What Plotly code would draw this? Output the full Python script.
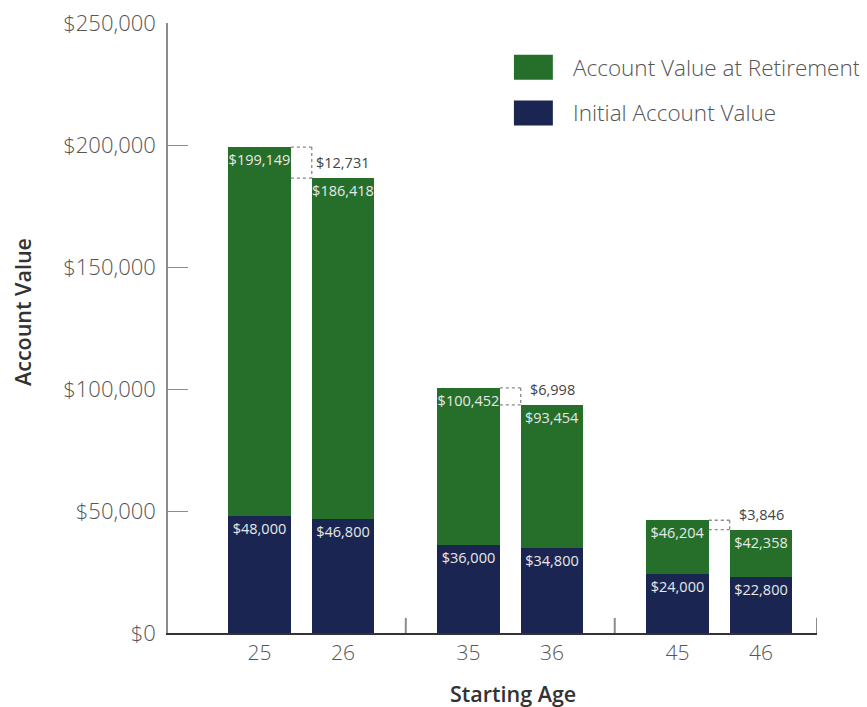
import plotly.graph_objects as go

# ---- data ----
ages = [25, 26, 35, 36, 45, 46]
initial_value = [48000, 46800, 36000, 34800, 24000, 22800]
retirement_value = [199149, 186418, 100452, 93454, 46204, 42358]
y_tick_values = [0, 50000, 100000, 150000, 200000, 250000]
y_tick_labels = ["$0", "$50,000", "$100,000", "$150,000", "$200,000", "$250,000"]
series_names = ["Account Value at Retirement", "Initial Account Value"]

GREEN = "#266F2A"
NAVY = "#1A2651"
AXIS_GRAY = "#8c8c8c"
TEXT_GRAY = "#555555"
LIGHT = "Open Sans, Noto Sans, sans-serif"
VAL_SIZE = 14.5

# layout of positions: pairs grouped with extra gap
GROUP_STEP = 2.5
BAR_W = 0.75
pos = [(i // 2) * GROUP_STEP + (i % 2) for i in range(len(ages))]
growth = [r - s for r, s in zip(retirement_value, initial_value)]

def money(v):
    return "${:,}".format(v)

fig = go.Figure()
fig.add_trace(go.Bar(
    x=pos, y=initial_value, width=BAR_W, marker=dict(color=NAVY, line=dict(width=0)),
    name=series_names[1], text=[money(v) for v in initial_value],
    textposition="inside", insidetextanchor="end", textangle=0, constraintext="none",
    textfont=dict(family=LIGHT, size=VAL_SIZE, color="#e8e8e8"), showlegend=False,
    hoverinfo="skip",
))
fig.add_trace(go.Bar(
    x=pos, y=growth, width=BAR_W, marker=dict(color=GREEN, line=dict(width=0)),
    name=series_names[0], text=[money(v) for v in retirement_value],
    textposition="inside", insidetextanchor="end", textangle=0, constraintext="none",
    textfont=dict(family=LIGHT, size=VAL_SIZE, color="#e8e8e8"), showlegend=False,
    hoverinfo="skip",
))

shapes = []
annotations = []
# difference brackets between pairs
for k in range(0, len(ages), 2):
    a, b = k, k + 1
    x_left = pos[a] + BAR_W / 2
    x_right = pos[b] - BAR_W / 2
    ya, yb = retirement_value[a], retirement_value[b]
    dot = dict(color="#888888", width=1.3, dash="dot")
    shapes.append(dict(type="line", xref="x", yref="y", x0=x_left, x1=x_right, y0=ya, y1=ya, line=dot))
    shapes.append(dict(type="line", xref="x", yref="y", x0=x_left, x1=x_right, y0=yb, y1=yb, line=dot))
    shapes.append(dict(type="line", xref="x", yref="y", x0=x_right, x1=x_right, y0=ya, y1=yb, line=dot))
    annotations.append(dict(
        x=pos[b], y=yb, xref="x", yref="y", text=money(ya - yb), showarrow=False,
        xanchor="center", yanchor="bottom", yshift=4,
        font=dict(family=LIGHT, size=VAL_SIZE, color="#444444"),
    ))

# group boundary ticks on the x axis (pointing up)
x_min, x_max = -1.095, 6.67
for bnd in [(pos[1] + pos[2]) / 2, (pos[3] + pos[4]) / 2, x_max]:
    shapes.append(dict(type="line", xref="x", yref="y", x0=bnd, x1=bnd, y0=0, y1=6200,
                       line=dict(color=AXIS_GRAY, width=2)))

# custom legend
legend_items = [(series_names[0], GREEN, 0.948, 0.907), (series_names[1], NAVY, 0.873, 0.832)]
for name, col, y1, y0 in legend_items:
    shapes.append(dict(type="rect", xref="paper", yref="paper", x0=0.533, x1=0.593, y0=y0, y1=y1,
                       fillcolor=col, line=dict(width=0)))
    annotations.append(dict(x=0.621, y=(y0 + y1) / 2, xref="paper", yref="paper", text=name,
                            showarrow=False, xanchor="left", yanchor="middle",
                            font=dict(family=LIGHT, size=22.5, color=TEXT_GRAY, weight=300)))

# axis titles
annotations.append(dict(x=0, y=0.5, xref="paper", yref="paper", text="Account Value", textangle=-90,
                        showarrow=False, xanchor="center", yanchor="middle", xshift=-146, yshift=16,
                        font=dict(family=LIGHT, size=21.5, color="#333333", weight=600)))
annotations.append(dict(x=0.531, y=0, xref="paper", yref="paper", text="Starting Age",
                        showarrow=False, xanchor="center", yanchor="middle", yshift=-60,
                        font=dict(family=LIGHT, size=21.5, color="#333333", weight=600)))

fig.update_layout(
    width=859, height=699,
    margin=dict(l=160, r=50, t=15, b=74, autoexpand=False),
    paper_bgcolor="white", plot_bgcolor="white",
    barmode="stack", bargap=0,
    shapes=shapes, annotations=annotations,
    showlegend=False,
    xaxis=dict(
        range=[x_min, x_max], tickmode="array", tickvals=pos, ticktext=[str(a) for a in ages],
        ticks="", showgrid=False, zeroline=False, showline=True, linecolor="#333333", linewidth=1.5,
        automargin=False,
        tickfont=dict(family=LIGHT, size=21, color=TEXT_GRAY, weight=300),
    ),
    yaxis=dict(
        range=[0, 250000], tickmode="array", tickvals=y_tick_values, ticktext=y_tick_labels,
        ticks="inside", ticklen=20, tickcolor=AXIS_GRAY, tickwidth=1,
        showgrid=False, zeroline=False, showline=True, linecolor=AXIS_GRAY, linewidth=1.5,
        ticklabelstandoff=6, ticklabeloverflow="allow", automargin=False,
        tickfont=dict(family=LIGHT, size=22, color=TEXT_GRAY, weight=300),
    ),
)

fig.write_html("out.html")
